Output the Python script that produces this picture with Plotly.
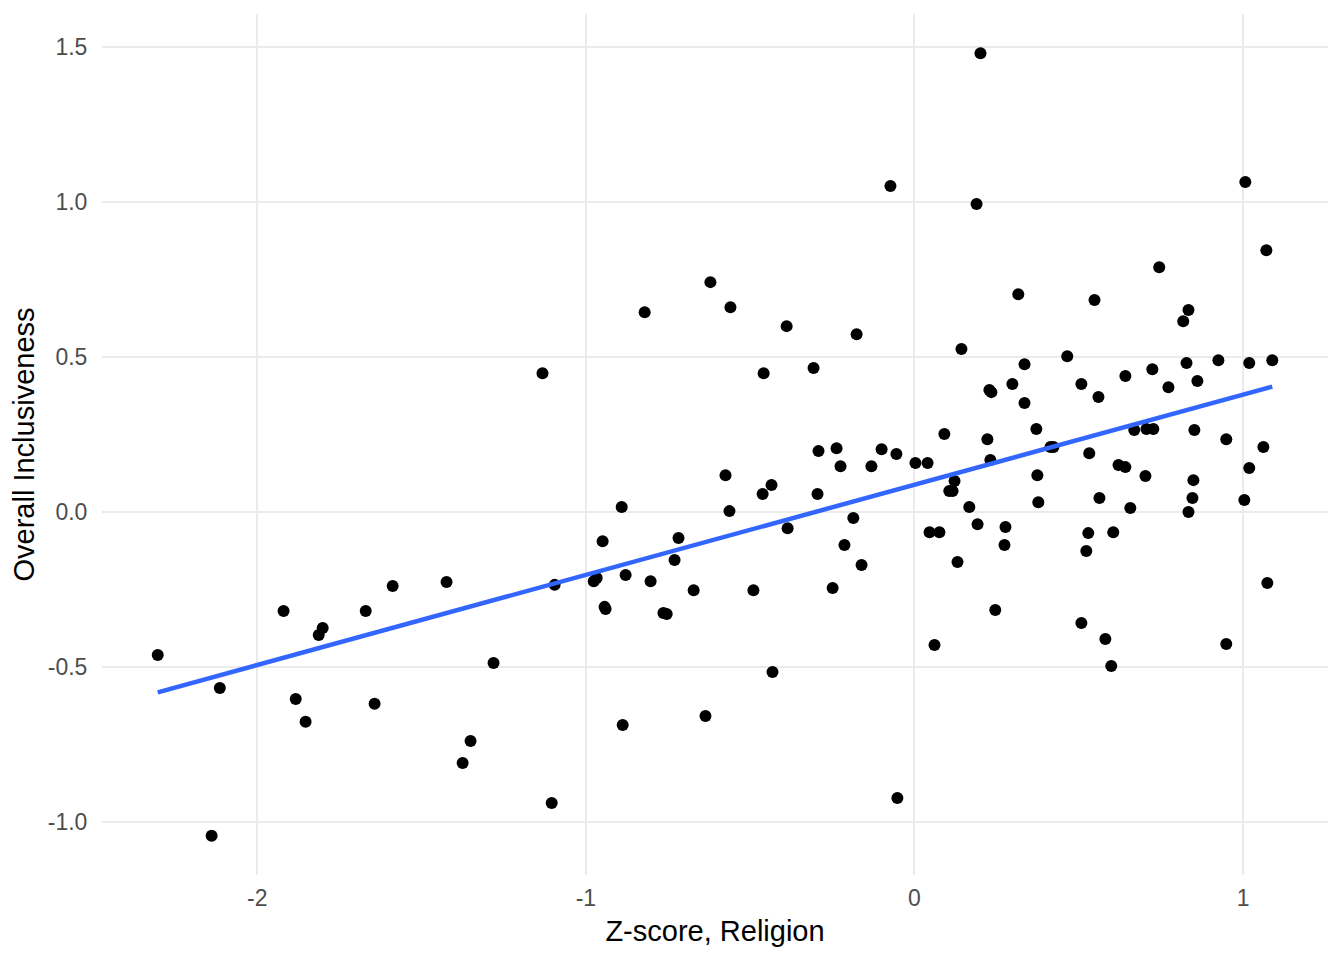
import numpy as np
import plotly.graph_objects as go

# Z-score, Religion (x) and Overall Inclusiveness (y)
religion_z = [
    -2.303, -2.139, -2.114, -1.920, -1.883, -1.853, -1.813, -1.801, -1.670, -1.643,
    -1.588, -1.424, -1.375, -1.351, -1.281, -1.132, -1.104, -1.095, -0.976, -0.967,
    -0.949, -0.943, -0.940, -0.891, -0.888, -0.879, -0.821, -0.803, -0.764, -0.754,
    -0.730, -0.718, -0.672, -0.636, -0.621, -0.575, -0.563, -0.560, -0.490, -0.462,
    -0.459, -0.435, -0.432, -0.389, -0.386, -0.307, -0.295, -0.292, -0.249, -0.237,
    -0.225, -0.213, -0.186, -0.176, -0.161, -0.131, -0.100, -0.073, -0.055, -0.052,
    0.003, 0.040, 0.046, 0.061, 0.076, 0.091, 0.106, 0.116, 0.122, 0.131,
    0.143, 0.167, 0.189, 0.192, 0.201, 0.222, 0.228, 0.234, 0.231, 0.246,
    0.274, 0.277, 0.298, 0.316, 0.335, 0.335, 0.371, 0.374, 0.377, 0.414,
    0.423, 0.465, 0.508, 0.508, 0.523, 0.529, 0.532, 0.548, 0.560, 0.563,
    0.581, 0.599, 0.605, 0.621, 0.642, 0.642, 0.657, 0.669, 0.703, 0.706,
    0.724, 0.727, 0.745, 0.773, 0.818, 0.828, 0.834, 0.834, 0.846, 0.849,
    0.852, 0.861, 0.925, 0.949, 0.949, 1.004, 1.007, 1.019, 1.019, 1.062,
    1.071, 1.074, 1.089,
]
inclusiveness = [
    -0.461, -1.045, -0.568, -0.319, -0.603, -0.677, -0.397, -0.374, -0.319, -0.619,
    -0.239, -0.226, -0.810, -0.739, -0.487, 0.448, -0.939, -0.235, -0.223, -0.213,
    -0.094, -0.306, -0.313, 0.016, -0.687, -0.203, 0.645, -0.223, -0.326, -0.329,
    -0.155, -0.084, -0.252, -0.658, 0.742, 0.119, 0.003, 0.661, -0.252, 0.058,
    0.448, 0.087, -0.516, 0.600, -0.052, 0.465, 0.058, 0.197, -0.245, 0.206,
    0.148, -0.106, -0.019, 0.574, -0.171, 0.148, 0.203, 1.052, 0.187, -0.923,
    0.158, 0.158, -0.065, -0.429, -0.065, 0.252, 0.068, 0.068, 0.100, -0.161,
    0.526, 0.016, 0.994, -0.039, 1.481, 0.235, 0.394, 0.387, 0.168, -0.316,
    -0.106, -0.048, 0.413, 0.703, 0.352, 0.477, 0.268, 0.119, 0.032, 0.210,
    0.210, 0.503, -0.358, 0.413, -0.126, -0.068, 0.190, 0.684, 0.371, 0.045,
    -0.410, -0.497, -0.065, 0.152, 0.145, 0.439, 0.013, 0.265, 0.116, 0.268,
    0.461, 0.268, 0.790, 0.403, 0.616, 0.481, 0.652, 0.000, 0.045, 0.103,
    0.265, 0.423, 0.490, 0.235, -0.426, 0.039, 1.065, 0.481, 0.142, 0.210,
    0.845, -0.229, 0.490,
]

x = np.array(religion_z)
y = np.array(inclusiveness)

# linear fit, like geom_smooth(method = "lm", se = FALSE)
slope, intercept = np.polyfit(x, y, 1)
fit_x = np.array([x.min(), x.max()])
fit_y = intercept + slope * fit_x


def expand(v, mult=0.05):
    pad = (v.max() - v.min()) * mult
    return [v.min() - pad, v.max() + pad]


grid = '#EBEBEB'
tick_font = dict(family='Liberation Sans, Arial, sans-serif', size=23, color='#4D4D4D')
title_font = dict(family='Liberation Sans, Arial, sans-serif', size=29, color='black')

fig = go.Figure()
fig.add_trace(go.Scatter(
    x=x, y=y, mode='markers',
    marker=dict(size=12, color='black'),
    showlegend=False,
))
fig.add_trace(go.Scatter(
    x=fit_x, y=fit_y, mode='lines',
    line=dict(color='#3366FF', width=4.5),
    showlegend=False,
))

# the page body adds an 8px offset, so the figure is 8px smaller each way
fig.update_layout(
    width=1336, height=952,
    paper_bgcolor='white', plot_bgcolor='white',
    margin=dict(l=94, r=16, t=6, b=85),
    xaxis=dict(
        range=expand(x), tickvals=[-2, -1, 0, 1], ticktext=['-2', '-1', '0', '1'],
        showgrid=True, gridcolor=grid, gridwidth=2, zeroline=False, showline=False,
        ticks='outside', ticklen=2, tickcolor='rgba(0,0,0,0)', tickfont=tick_font,
        title=dict(text='Z-score, Religion', font=title_font, standoff=11),
    ),
    yaxis=dict(
        range=expand(y), tickvals=[-1.0, -0.5, 0.0, 0.5, 1.0, 1.5],
        ticktext=['-1.0', '-0.5', '0.0', '0.5', '1.0', '1.5'],
        showgrid=True, gridcolor=grid, gridwidth=2, zeroline=False, showline=False,
        ticks='outside', ticklen=9, tickcolor='rgba(0,0,0,0)', tickfont=tick_font,
        title=dict(text='Overall Inclusiveness', font=title_font, standoff=4),
    ),
)

fig.write_html("out.html")
